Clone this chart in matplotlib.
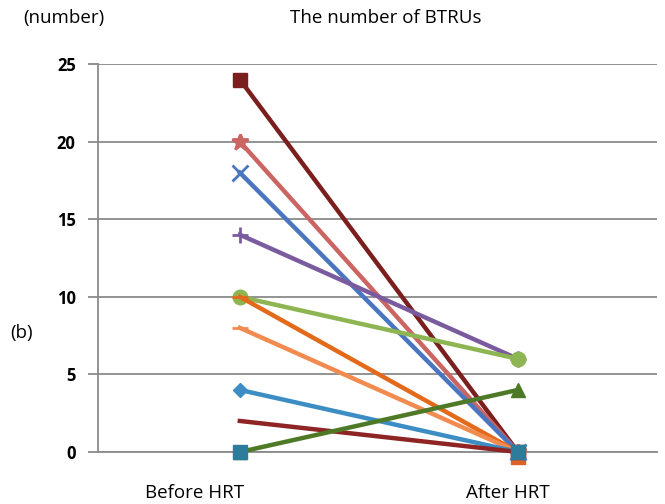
import matplotlib
matplotlib.use("Agg")
import matplotlib.pyplot as plt

categories = ["Before HRT", "After HRT"]
before = [24, 20, 18, 14, 10, 10, 8, 4, 2, 0, 0]
after = [0, 0, 0, 6, 6, 0, 0, 0, 0, 4, 0]
colors = ["#7A1E1E", "#CB6563", "#4A76C0", "#7B5B9F", "#8DB551", "#E26A1A",
          "#F28B50", "#3B8DC4", "#8E2424", "#4E7A27", "#2E7C9C"]
markers = ["s", "*", "x", "+", "o", "_", "_", "D", "", "^", "s"]
linestyles = ["-"] * 10 + ["none"]
yticks = [0, 5, 10, 15, 20, 25]

plt.rcParams['font.family'] = ['Open Sans', 'DejaVu Sans']
fig = plt.figure(figsize=(6.65, 5.04), dpi=100)
ax = fig.add_axes([98/665, 1-452/504, (657-98)/665, (452-64)/504])

xs = [0, 1]
sizes = {"s": 10.5, "o": 10.5, "D": 7.5, "^": 10, "*": 12, "x": 11, "+": 12, "_": 11, "": 0}
for b, a, c, m, ls in zip(before, after, colors, markers, linestyles):
    ax.plot(xs, [b, a], color=c, lw=3.2, ls=ls, marker=m if m else None,
            markersize=sizes[m],
            markeredgewidth=2 if m in ("x", "+", "*", "_") else 1,
            markeredgecolor=c, markerfacecolor=c, zorder=3, clip_on=False)
# orange square at after
ax.plot([1], [-0.35], marker="s", color="#E0602A", markersize=10, zorder=2.9, ls="none", clip_on=False)

ax.set_xlim(-0.51, 1.5)
ax.set_ylim(0, 25)
ax.set_yticks(yticks)
ax.set_yticklabels([str(v) for v in yticks], fontweight="bold", fontsize=12)
ax.yaxis.grid(True, color="#8A8A8A", lw=1.3)
ax.set_axisbelow(True)
ax.set_xticks([])
for s in ["top", "right", "bottom"]:
    ax.spines[s].set_visible(False)
ax.spines["left"].set_color("#8A8A8A")
ax.spines["left"].set_linewidth(1.3)
ax.tick_params(axis="y", length=7, color="#8A8A8A", width=1.3, pad=9)
for sp in ax.spines.values():
    sp.set_zorder(0)
ax.plot([-0.51, 1.5], [0, 0], color="#8A8A8A", lw=1.3, zorder=1, clip_on=False)

fig.text(64/665, 1-18/504, "(number)", ha="center", va="center", fontsize=13.5)
fig.text(386/665, 1-18/504, "The number of BTRUs", ha="center", va="center", fontsize=13.5)
fig.text(22/665, 1-333/504, "(b)", ha="center", va="center", fontsize=13.5)
fig.text(195/665, 1-493/504, categories[0], ha="center", va="center", fontsize=13.5)
fig.text(508/665, 1-493/504, categories[1], ha="center", va="center", fontsize=13.5)

fig.savefig("out.png", dpi=100)
